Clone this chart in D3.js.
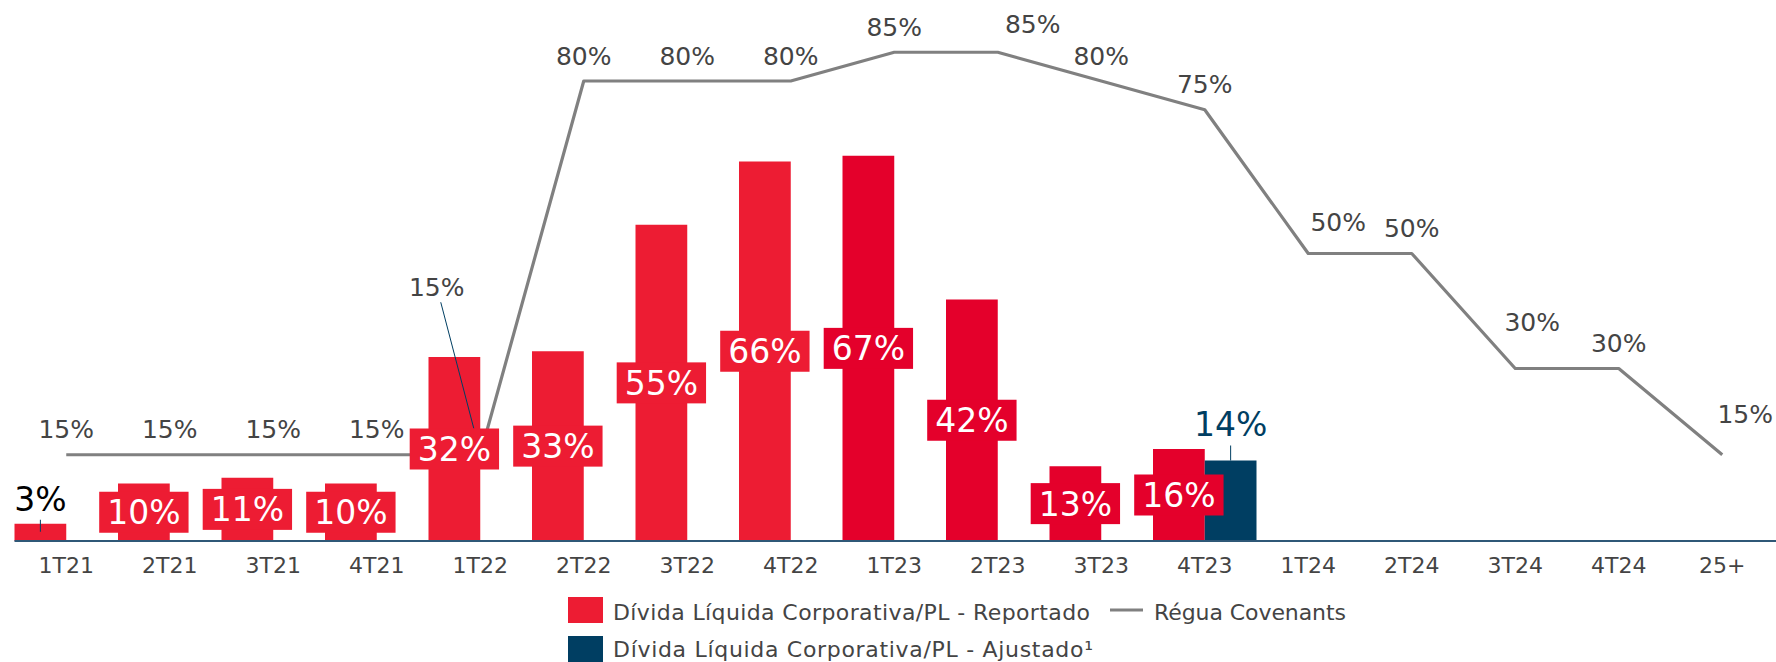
<!DOCTYPE html>
<html>
<head>
<meta charset="utf-8">
<script src="https://cdn.jsdelivr.net/npm/d3@7"></script>
<style>
  html, body { margin: 0; padding: 0; background: #fff; }
  text { font-family: "DejaVu Sans", sans-serif; }
</style>
</head>
<body>
<div id="chart"></div>
<script>
// --- dados ---
const categories = ['1T21','2T21','3T21','4T21','1T22','2T22','3T22','4T22','1T23','2T23','3T23','4T23','1T24','2T24','3T24','4T24','25+'];
const reportado  = [3, 10, 11, 10, 32, 33, 55, 66, 67, 42, 13, 16, null, null, null, null, null];
const ajustado   = [null, null, null, null, null, null, null, null, null, null, null, 14, null, null, null, null, null];
const covenants  = [15, 15, 15, 15, 15, 80, 80, 80, 85, 85, 80, 75, 50, 50, 30, 30, 15];
const legendLabels = ['Dívida Líquida Corporativa/PL - Reportado', 'Régua Covenants', 'Dívida Líquida Corporativa/PL - Ajustado¹'];

// ajustes manuais dos rótulos da régua (dx, dy)
const covLabelNudge = [[0,0],[0,0],[0,0],[0,0],[-43.5,-142],[0,0],[0,0],[0,0],[0,0],[35,-2.5],[0,0],[0,0],[30,-6],[0,0],[17,-21],[0,0],[23,-15]];

const W = 1776, H = 662;
const RED = '#ED1C33', RED_DARK = '#E4002B', NAVY = '#003E62', GRAY = '#808080', TXT = '#444';
const redFor = c => c.endsWith('23') ? RED_DARK : RED;

const svg = d3.select('#chart').append('svg').attr('width', W).attr('height', H);

const x = d3.scaleBand().domain(categories).range([14.5, 1774]).padding(0);
const xs = d3.scaleBand().domain(['rep', 'adj']).range([0, x.bandwidth()]);
const y = d3.scaleLinear().domain([0, 90]).range([541, 23.5]);
const cx = c => x(c) + x.bandwidth() / 2;

// barras
const repData = categories.map((c, i) => ({ c, v: reportado[i] })).filter(d => d.v != null);
const adjData = categories.map((c, i) => ({ c, v: ajustado[i] })).filter(d => d.v != null);

svg.append('g').selectAll('rect').data(repData).join('rect')
  .attr('x', d => x(d.c) + xs('rep'))
  .attr('width', xs.bandwidth())
  .attr('y', d => y(d.v))
  .attr('height', d => y(0) - y(d.v))
  .attr('fill', d => redFor(d.c));

svg.append('g').selectAll('rect').data(adjData).join('rect')
  .attr('x', d => x(d.c) + xs('adj'))
  .attr('width', xs.bandwidth())
  .attr('y', d => y(d.v))
  .attr('height', d => y(0) - y(d.v))
  .attr('fill', NAVY);

// eixo
const axis = svg.append('g').attr('transform', `translate(0,${y(0)})`)
  .call(d3.axisBottom(x).tickSize(0));
axis.select('.domain').attr('stroke', '#2f5877').attr('stroke-width', 1.8)
  .attr('d', `M14.5,0H${W}`);
axis.selectAll('text').attr('y', 32).attr('dy', 0)
  .attr('fill', TXT).style('font-size', '22px').style('font-family', '"DejaVu Sans", sans-serif');

// linha régua covenants
const line = d3.line().x((d, i) => cx(categories[i])).y(d => y(d));
svg.append('path').datum(covenants)
  .attr('d', line)
  .attr('fill', 'none').attr('stroke', GRAY).attr('stroke-width', 3.2).attr('stroke-linejoin', 'round');

// rótulos das barras reportado
const lab = svg.append('g');
repData.forEach(d => {
  const bx = x(d.c) + xs('rep') + xs.bandwidth() / 2;
  if (d.v < 5) {
    lab.append('line').attr('x1', bx).attr('x2', bx).attr('y1', y(d.v) - 4).attr('y2', y(d.v) + 8)
      .attr('stroke', NAVY).attr('stroke-width', 1);
    lab.append('text').attr('x', bx).attr('y', y(d.v) - 13).attr('text-anchor', 'middle')
      .attr('fill', '#000').style('font-size', '33px').text(d.v + '%');
    return;
  }
  const my = (y(d.v) + y(0)) / 2;
  const g = lab.append('g');
  const t = g.append('text').attr('x', bx).attr('y', my + 12).attr('text-anchor', 'middle')
    .attr('fill', '#fff').style('font-size', '33px').text(d.v + '%');
  const tw = t.node().getComputedTextLength();
  g.insert('rect', 'text').attr('x', bx - tw / 2 - 8).attr('width', tw + 16)
    .attr('y', my - 20.5).attr('height', 41).attr('fill', redFor(d.c));
});

// rótulo ajustado
adjData.forEach(d => {
  const bx = x(d.c) + xs('adj') + xs.bandwidth() / 2;
  lab.append('line').attr('x1', bx).attr('x2', bx).attr('y1', y(d.v) - 15).attr('y2', y(d.v))
    .attr('stroke', NAVY).attr('stroke-width', 1);
  lab.append('text').attr('x', bx).attr('y', y(d.v) - 24.5).attr('text-anchor', 'middle')
    .attr('fill', NAVY).style('font-size', '33px').text(d.v + '%');
});

// rótulos da régua
covenants.forEach((v, i) => {
  const [dx, dy] = covLabelNudge[i];
  const px = cx(categories[i]), py = y(v);
  const ty = py - 16.5 + dy;
  lab.append('text').attr('x', px + dx).attr('y', ty).attr('text-anchor', 'middle')
    .attr('fill', TXT).style('font-size', '25px').text(v + '%');
  if (dy < -100) {
    // rótulo deslocado: linha de chamada até a caixa da barra
    lab.append('line').attr('x1', px + dx + 4).attr('y1', ty + 6)
      .attr('x2', px - 6.5).attr('y2', py - 26.5)
      .attr('stroke', NAVY).attr('stroke-width', 1);
  }
});

// legenda
const leg = svg.append('g').style('font-size', '22px');
leg.append('rect').attr('x', 568).attr('y', 597).attr('width', 35).attr('height', 26).attr('fill', RED);
leg.append('text').attr('x', 613).attr('y', 620).attr('fill', TXT)
  .attr('textLength', 477).attr('lengthAdjust', 'spacing').text(legendLabels[0]);
leg.append('line').attr('x1', 1110).attr('x2', 1143).attr('y1', 610).attr('y2', 610)
  .attr('stroke', GRAY).attr('stroke-width', 3);
leg.append('text').attr('x', 1154).attr('y', 620).attr('fill', TXT)
  .attr('textLength', 192).attr('lengthAdjust', 'spacing').text(legendLabels[1]);
leg.append('rect').attr('x', 568).attr('y', 636).attr('width', 35).attr('height', 26).attr('fill', NAVY);
leg.append('text').attr('x', 613).attr('y', 657).attr('fill', TXT)
  .attr('textLength', 480).attr('lengthAdjust', 'spacing').text(legendLabels[2]);
</script>
</body>
</html>
